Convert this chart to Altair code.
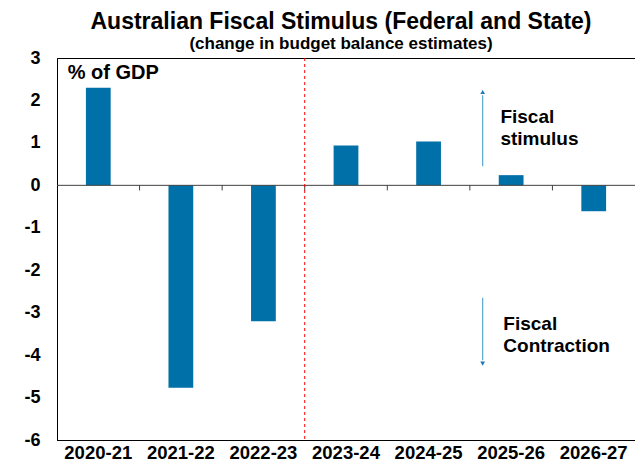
import altair as alt
import pandas as pd

cats = ["2020-21", "2021-22", "2022-23", "2023-24", "2024-25", "2025-26", "2026-27"]
vals = [2.3, -4.77, -3.2, 0.94, 1.03, 0.24, -0.61]

FONT = "Liberation Sans"
BLUE = "#0070A8"
FS = 18

df = pd.DataFrame({"cat": cats, "val": vals})
xscale = alt.Scale(type="band", domain=cats, paddingInner=0, paddingOuter=0)
yscale = alt.Scale(domain=[-6, 3], nice=False)

def X(band=0.5):
    return alt.X("cat:N", scale=xscale, bandPosition=band, title=None)

def Y(field):
    return alt.Y(f"{field}:Q", scale=yscale, title=None)

bars = alt.Chart(df).mark_bar(color=BLUE, width=alt.RelativeBandSize(0.3)).encode(
    x=alt.X("cat:N", scale=xscale, title=None,
            axis=alt.Axis(labelAngle=0, labelFont=FONT, labelFontSize=18.5,
                          labelFontWeight="bold", labelColor="black",
                          ticks=False, domainColor="black", labelPadding=3)),
    y=alt.Y("val:Q", scale=yscale, title=None,
            axis=alt.Axis(values=list(range(-6, 4)), grid=False, ticks=False,
                          labelFont=FONT, labelFontSize=FS, labelFontWeight="bold",
                          labelColor="black", domainColor="black", labelPadding=17,
                          labelExpr="'' + datum.value")),
)

zero = alt.Chart(pd.DataFrame({"v": [0]})).mark_rule(color="#404040", strokeWidth=1).encode(
    y=Y("v")
)

tick_df = pd.DataFrame({"cat": cats[1:], "y0": [0] * 6, "y1": [-0.12] * 6})
ticks = alt.Chart(tick_df).mark_rule(color="#404040").encode(
    x=X(0), y=Y("y0"), y2="y1:Q"
)

dash_df = pd.DataFrame({"cat": ["2023-24"], "y0": [3], "y1": [-6]})
dash = alt.Chart(dash_df).mark_rule(color="#FF0000", strokeDash=[3, 3], strokeWidth=1).encode(
    x=X(0), y=Y("y0"), y2="y1:Q"
)

arrow_df = pd.DataFrame({"cat": ["2025-26", "2025-26"], "y0": [0.45, -2.65], "y1": [2.12, -4.12]})
arrows = alt.Chart(arrow_df).mark_rule(color="#5AA6D2", strokeWidth=1.2).encode(
    x=X(0.155), y=Y("y0"), y2="y1:Q"
)
head_up = alt.Chart(pd.DataFrame({"cat": ["2025-26"], "y": [2.2]})).mark_point(
    shape="triangle-up", filled=True, color="#1E78B4", size=22, opacity=1
).encode(x=X(0.155), y=Y("y"))
head_dn = alt.Chart(pd.DataFrame({"cat": ["2025-26"], "y": [-4.2]})).mark_point(
    shape="triangle-down", filled=True, color="#1E78B4", size=22, opacity=1
).encode(x=X(0.155), y=Y("y"))

ann_df = pd.DataFrame({
    "cat": ["2025-26", "2025-26", "2025-26", "2025-26"],
    "y": [1.62, 1.1, -3.26, -3.78],
    "txt": ["Fiscal", "stimulus", "Fiscal", "Contraction"],
})
txt_kw = dict(align="left", baseline="middle", font=FONT, fontWeight="bold", color="black")
ann_up = alt.Chart(ann_df.iloc[:2]).mark_text(fontSize=19, **txt_kw).encode(x=X(0.37), y=Y("y"), text="txt:N")
ann_dn = alt.Chart(ann_df.iloc[2:]).mark_text(fontSize=19, **txt_kw).encode(x=X(0.405), y=Y("y"), text="txt:N")

gdp = alt.Chart(pd.DataFrame({"cat": ["2020-21"], "y": [2.65], "txt": ["% of GDP"]})).mark_text(
    fontSize=20, **txt_kw
).encode(x=X(0.13), y=Y("y"), text="txt:N")

chart = alt.layer(bars, zero, ticks, dash, arrows, head_up, head_dn, ann_up, ann_dn, gdp).properties(
    width=578, height=382,
    autosize=alt.AutoSizeParams(type="none"),
    padding={"left": 49, "top": 50, "right": 0, "bottom": 22},
    title=alt.TitleParams(
        "Australian Fiscal Stimulus (Federal and State)",
        subtitle="(change in budget balance estimates)",
        font=FONT, fontSize=23, fontWeight="bold", color="black",
        subtitleFont=FONT, subtitleFontSize=17, subtitleFontWeight="bold", subtitleColor="black",
        anchor="middle", dx=-5, offset=-3, subtitlePadding=2,
    ),
).configure_view(stroke="black", strokeWidth=1)

chart.save("out.html", embed_options={"renderer": "svg", "actions": False})
